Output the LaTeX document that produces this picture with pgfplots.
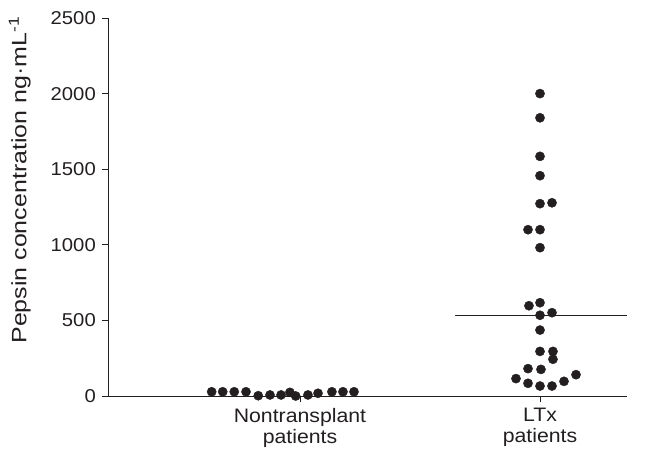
\documentclass[border=0pt]{standalone}
\usepackage{fontspec}
\setmainfont{Liberation Sans}[FakeStretch=1.09]
\newfontfamily\labelfont{Liberation Sans}[FakeStretch=1.2]
\usepackage{pgfplots}
\pgfplotsset{compat=1.18}
\definecolor{ink}{HTML}{231F20}
\begin{document}
\fontsize{18}{21}\selectfont
\begin{tikzpicture}
\useasboundingbox (-108pt,-55pt) rectangle (556pt,396pt);
\begin{axis}[
  at={(0,0)}, anchor=south west,
  scale only axis, width=519pt, height=378pt,
  xmin=0.2, xmax=2.3625, ymin=0, ymax=2500,
  axis x line=bottom, axis y line=left,
  axis line style={-, ink, line width=0.8pt},
  tick align=outside, major tick length=6pt,
  tick style={ink, line width=0.8pt},
  ytick={0,500,1000,1500,2000,2500},
  xtick={1,2},
  xticklabels={{Nontransplant\\patients},{LTx\\patients}},
  xticklabel style={align=center, text=ink, font=\fontsize{19.5}{21}\selectfont},
  yticklabel style={text=ink, font=\fontsize{18.6}{21}\selectfont},
  /pgf/number format/assume math mode=true,
  /pgf/number format/1000 sep={},
  every axis y label/.style={at={(axis description cs:-0.17,0.571)}, rotate=90, anchor=center},
  ylabel={Pepsin concentration ng·mL\textsuperscript{-1}},
  ylabel style={text=ink, font=\labelfont\fontsize{20.8}{22}\selectfont},
  clip=false,
]
\addplot[only marks, mark=*, mark size=4.6pt, ink] coordinates {
 (0.632,28) (0.678,28) (0.726,28) (0.775,28) (0.826,2) (0.875,7) (0.921,7)
 (0.958,24) (0.982,0) (1.033,7) (1.075,18) (1.133,28) (1.179,28) (1.225,28)
};
\addplot[only marks, mark=*, mark size=4.6pt, ink] coordinates {
 (2,2000) (2,1840) (2,1585) (2,1457) (2,1272) (2.05,1278) (1.95,1100) (2,1100)
 (2,981) (1.954,597) (2,617) (2,534) (2.05,551) (2,436) (2,295) (2.054,295)
 (2.054,243) (1.95,181) (2.004,176) (1.9,115) (1.95,84) (2,66) (2.05,66)
 (2.1,97) (2.15,141)
};
\addplot[ink, line width=0.8pt] coordinates {(1.646,530) (2.3625,530)};
\end{axis}
\end{tikzpicture}
\end{document}
